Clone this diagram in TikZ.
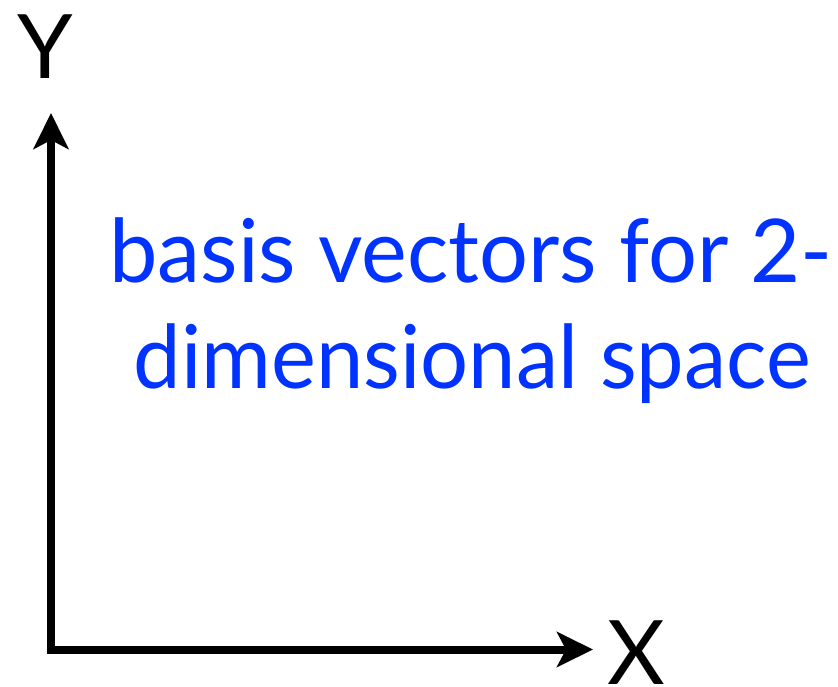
\documentclass[tikz,border=0pt]{standalone}
\usepackage{fontspec}
\setmainfont{Lato}
\usetikzlibrary{arrows.meta}
\definecolor{vecblue}{RGB}{0,51,255}
\tikzset{
  axis/.style={line width=8pt,-{Stealth[length=36pt,width=35pt,inset=9pt]}},
  axislabel/.style={font=\fontsize{89}{100}\selectfont,anchor=base,inner sep=0pt,text depth=0pt},
  bluetext/.style={font=\fontsize{88}{100}\selectfont,text=vecblue,anchor=base,inner sep=0pt}
}
\begin{document}
\begin{tikzpicture}[x=1pt,y=-1pt]
\useasboundingbox (0,0) rectangle (838,687);
\coordinate (ybot) at (51,653.5);
\coordinate (ytip) at (51,113);
\coordinate (xleft) at (47,649.5);
\coordinate (xtip) at (593,649.5);
\draw[axis] (ybot) -- (ytip);
\draw[axis] (xleft) -- (xtip);
\node[axislabel] (ylab) at (45,79) {Y};
\node[axislabel] (xlab) at (636.5,684) {X};
\node[bluetext] (line1) at (471,282) {\scalebox{0.982}[1]{basis vectors for 2-}};
\node[bluetext] (line2) at (472.5,388) {\scalebox{0.964}[1]{dimensional space}};
\end{tikzpicture}
\end{document}
